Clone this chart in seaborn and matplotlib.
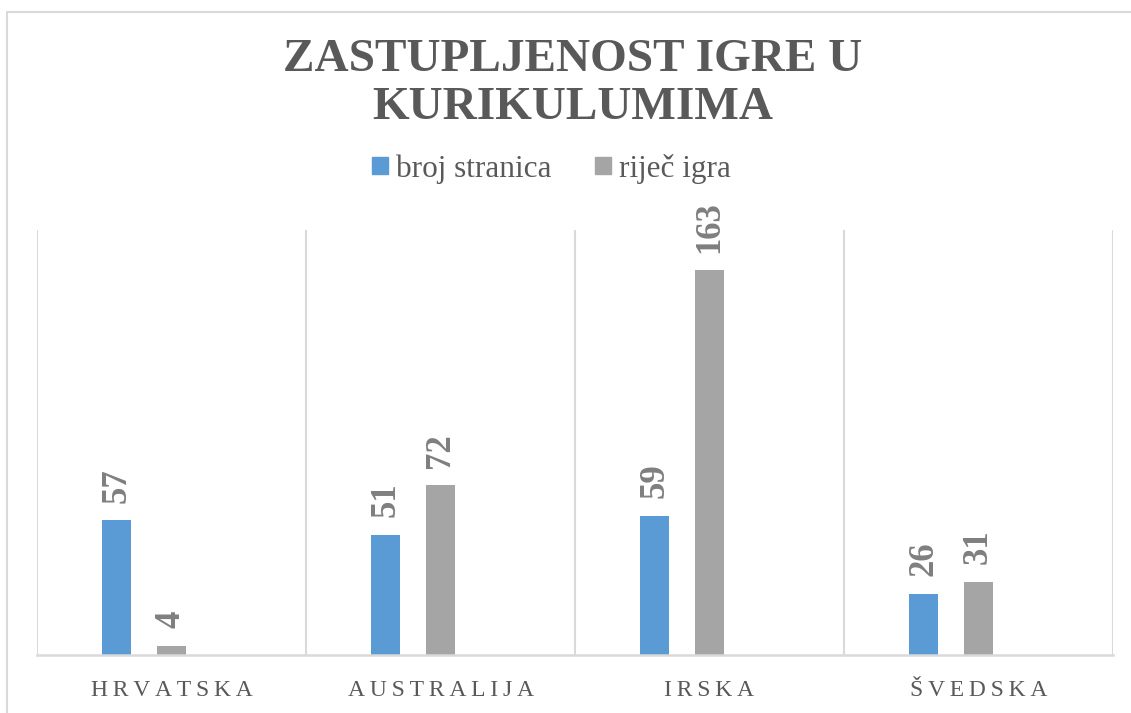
import matplotlib
matplotlib.use('Agg')
import matplotlib.pyplot as plt
import matplotlib.patches as mpatches
from matplotlib.font_manager import FontProperties
import seaborn as sns
import pandas as pd

# ── Data ────────────────────────────────────────────────
countries = ['HRVATSKA', 'AUSTRALIJA', 'IRSKA', 'ŠVEDSKA']
broj_stranica = [57, 51, 59, 26]
rijec_igra = [4, 72, 163, 31]
series_names = ['broj stranica', 'riječ igra', ' ']   # third series is empty in the source chart

# ── Design tokens ───────────────────────────────────────
BLUE = '#5B9BD5'
GRAY = '#A5A5A5'
TEXT = '#595959'
LABEL = '#7F7F7F'
GRID = '#D9D9D9'
SERIF = 'Liberation Serif'

sns.set_theme(style='white')
plt.rcParams['font.family'] = SERIF

df = pd.DataFrame({
    'country': countries * 2,
    'series': [series_names[0]] * 4 + [series_names[1]] * 4,
    'value': broj_stranica + rijec_igra,
})

fig = plt.figure(figsize=(11.31, 7.13), dpi=100)
ax = fig.add_axes([37 / 1131, 1 - 655 / 713, (1113 - 37) / 1131, (655 - 230) / 713])

sns.barplot(data=df, x='country', y='value', hue='series', hue_order=series_names,
            order=countries, palette={series_names[0]: BLUE, series_names[1]: GRAY,
                                      series_names[2]: GRAY},
            width=0.61, gap=0.47, errorbar=None, legend=False, ax=ax,
            saturation=1, linewidth=0)

for cont in ax.containers:
    ax.bar_label(cont, rotation=90, padding=12.5, fontsize=25, fontweight='bold',
                 color=LABEL, family=SERIF)

ax.set_xlim(-0.5, len(countries) - 0.5)
ax.set_ylim(0, 180)
ax.set_xlabel('')
ax.set_ylabel('')
ax.set_yticks([])

# vertical separators between categories
for xb in [i - 0.5 for i in range(len(countries) + 1)]:
    ax.axvline(xb, color=GRID, linewidth=1.5, zorder=0)
for s in ['top', 'right', 'left']:
    ax.spines[s].set_visible(False)
ax.spines['bottom'].set_color(GRID)
ax.spines['bottom'].set_linewidth(1.8)

spaced = ['\u2009'.join(c) for c in countries]
ax.set_xticks(range(len(countries)))
ax.set_xticklabels(spaced, fontsize=17, color=TEXT, family=SERIF)
ax.tick_params(axis='x', length=0, pad=29.5)
for t in ax.get_xticklabels():
    t.set_va('baseline')

# title
fig.text(573 / 1131, 1 - 84 / 713, 'ZASTUPLJENOST IGRE U\nKURIKULUMIMA', ha='center', va='center',
         fontsize=34, fontweight='bold', color=TEXT, linespacing=1.19, family=SERIF)

# legend
handles = [mpatches.Patch(color=BLUE, label=series_names[0]),
           mpatches.Patch(color=GRAY, label=series_names[1])]
fig.legend(handles=handles, loc='center', bbox_to_anchor=(551.5 / 1131, 1 - 169 / 713), ncol=2,
           frameon=False, handlelength=0.49, handleheight=0.46,
           handletextpad=0.27, columnspacing=1.4, labelcolor=TEXT,
           prop=FontProperties(family=SERIF, size=22.5))

# outer chart border
fig.patches.append(mpatches.Rectangle((7 / 1131, -0.1), 1.2, 0.1 + 1 - 12 / 713,
                                      transform=fig.transFigure, fill=False,
                                      edgecolor=GRID, linewidth=1.5))

fig.savefig('out.png', dpi=100, facecolor='white')
